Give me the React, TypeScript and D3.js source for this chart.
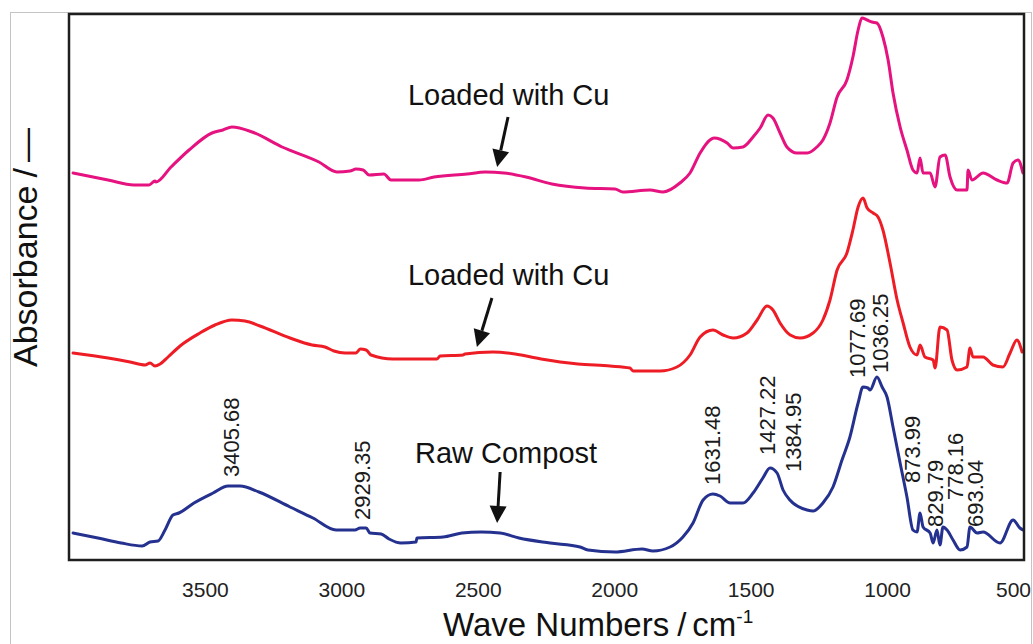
import React, { useEffect, useRef } from 'react';
import * as d3 from 'd3';

// x axis tick values (cm-1)
const X_TICKS = [3500, 3000, 2500, 2000, 1500, 1000, 500];

// spectra: [wave number, absorbance (stacked, a.u.)]
const cuLoadedTop = [
  [3985, 3.87], [3857, 3.80], [3762, 3.75], [3707, 3.75], [3685, 3.79], [3681, 3.78],
  [3626, 3.93], [3560, 4.10], [3476, 4.27], [3436, 4.30], [3403, 4.33], [3329, 4.28],
  [3219, 4.13], [3084, 3.98], [3018, 3.88], [2970, 3.89], [2948, 3.91], [2922, 3.90],
  [2900, 3.85], [2846, 3.86], [2820, 3.80], [2717, 3.80], [2662, 3.83], [2541, 3.86],
  [2475, 3.88], [2406, 3.87], [2325, 3.83], [2230, 3.76], [2109, 3.72], [1999, 3.71],
  [1970, 3.68], [1871, 3.70], [1823, 3.68], [1761, 3.77], [1724, 3.87], [1687, 4.07],
  [1651, 4.20], [1636, 4.22], [1588, 4.17], [1566, 4.12], [1530, 4.13], [1493, 4.23],
  [1467, 4.32], [1438, 4.45], [1420, 4.42], [1394, 4.27], [1369, 4.13], [1332, 4.07],
  [1295, 4.07], [1259, 4.13], [1237, 4.20], [1211, 4.37], [1185, 4.63], [1149, 4.80],
  [1127, 5.03], [1108, 5.30], [1094, 5.42], [1075, 5.40], [1057, 5.38], [1039, 5.37],
  [1017, 5.23], [998, 5.00], [980, 4.67], [954, 4.33], [929, 4.10], [907, 3.90],
  [892, 3.87], [881, 4.02], [870, 3.87], [844, 3.87], [826, 3.73], [808, 4.03],
  [789, 4.05], [771, 3.83], [745, 3.70], [709, 3.70], [705, 3.90], [691, 3.80],
  [650, 3.87], [599, 3.80], [562, 3.77], [540, 3.97], [522, 4.00], [504, 3.87],
];

const cuLoadedMid = [
  [3985, 2.07], [3857, 2.02], [3776, 1.98], [3721, 1.95], [3703, 1.97], [3685, 1.94],
  [3666, 1.96], [3637, 2.03], [3593, 2.14], [3520, 2.27], [3465, 2.35], [3403, 2.40],
  [3355, 2.39], [3300, 2.34], [3190, 2.22], [3109, 2.15], [3062, 2.13], [3029, 2.09],
  [2988, 2.07], [2948, 2.07], [2933, 2.11], [2911, 2.10], [2893, 2.05], [2813, 2.01],
  [2651, 2.01], [2640, 2.04], [2556, 2.05], [2549, 2.06], [2446, 2.08], [2365, 2.06],
  [2270, 2.01], [2135, 1.96], [2017, 1.94], [1944, 1.92], [1933, 1.89], [1834, 1.89],
  [1772, 1.93], [1724, 2.05], [1687, 2.23], [1640, 2.30], [1603, 2.25], [1566, 2.22],
  [1515, 2.27], [1478, 2.40], [1442, 2.54], [1420, 2.50], [1394, 2.37], [1357, 2.25],
  [1321, 2.22], [1273, 2.27], [1237, 2.40], [1211, 2.60], [1185, 2.90], [1149, 3.07],
  [1127, 3.30], [1108, 3.53], [1090, 3.62], [1075, 3.52], [1053, 3.47], [1035, 3.43],
  [1017, 3.30], [991, 2.97], [965, 2.60], [943, 2.37], [918, 2.13], [892, 2.05],
  [881, 2.15], [863, 2.03], [833, 2.00], [826, 1.92], [808, 2.33], [782, 2.30],
  [764, 2.00], [745, 1.90], [709, 1.93], [698, 2.12], [687, 2.03], [650, 2.03],
  [614, 1.95], [577, 1.93], [551, 2.07], [526, 2.20], [507, 2.08],
];

const rawCompost = [
  [3985, 0.27], [3894, 0.22], [3809, 0.17], [3732, 0.14], [3703, 0.18], [3674, 0.19],
  [3648, 0.30], [3619, 0.45], [3597, 0.47], [3542, 0.57], [3472, 0.67], [3417, 0.74],
  [3373, 0.74], [3304, 0.68], [3190, 0.53], [3106, 0.42], [3021, 0.30], [2952, 0.30],
  [2933, 0.32], [2911, 0.32], [2897, 0.27], [2856, 0.26], [2827, 0.21], [2783, 0.17],
  [2728, 0.18], [2725, 0.22], [2629, 0.23], [2560, 0.27], [2490, 0.28], [2420, 0.27],
  [2351, 0.22], [2237, 0.17], [2127, 0.13], [2098, 0.10], [1999, 0.08], [1900, 0.11],
  [1860, 0.09], [1797, 0.13], [1750, 0.23], [1713, 0.37], [1676, 0.60], [1640, 0.66],
  [1614, 0.64], [1577, 0.57], [1530, 0.57], [1493, 0.67], [1457, 0.82], [1431, 0.92],
  [1405, 0.87], [1383, 0.70], [1358, 0.60], [1295, 0.50], [1273, 0.49], [1237, 0.57],
  [1200, 0.73], [1167, 1.00], [1138, 1.23], [1108, 1.57], [1090, 1.73], [1072, 1.72],
  [1064, 1.70], [1039, 1.83], [1020, 1.73], [1002, 1.63], [980, 1.33], [954, 0.97],
  [929, 0.63], [907, 0.30], [892, 0.28], [881, 0.47], [870, 0.33], [844, 0.27],
  [833, 0.17], [819, 0.30], [808, 0.15], [797, 0.33], [782, 0.30], [760, 0.20],
  [734, 0.10], [709, 0.13], [698, 0.33], [672, 0.27], [650, 0.28], [588, 0.17],
  [540, 0.40], [515, 0.32], [504, 0.30],
];

// band positions marked on the raw compost spectrum
const peakLabels = [
  '3405.68', '2929.35', '1631.48', '1427.22', '1384.95', '1077.69',
  '1036.25', '873.99', '829.79', '778.16', '693.04',
];
// label placement: [dx from band (px), foot of label (px)]
const peakPlacement = [
  [0, 477], [1, 520], [-3, 485], [-4, 455], [10, 472], [-9, 378],
  [2, 373], [-10, 483], [1, 527], [7, 500], [4, 527],
];

const annotationTexts = ['Loaded with Cu', 'Loaded with Cu', 'Raw Compost'];
// [text start wn, text baseline abs, arrow tail wn, tail abs, tip wn, tip abs]
const annotationPlacement = [
  [2758, 4.55, 2391, 4.43, 2431, 3.93],
  [2758, 2.75, 2450, 2.62, 2505, 2.13],
  [2732, 0.97, 2420, 0.88, 2431, 0.37],
];

const FONT = '"Liberation Sans", Arial, Helvetica, sans-serif';

const App = () => {
  const svgRef = useRef(null);

  useEffect(() => {
    const svg = d3.select(svgRef.current);
    svg.selectAll('*').remove();

    const W = 1033;
    const H = 644;
    const frame = { left: 69, top: 14, right: 1024, bottom: 560 };

    svg.attr('width', W).attr('height', H);

    const x = d3.scaleLinear().domain([4000, 500]).range([frame.left, frame.right]);
    const y = d3.scaleLinear().domain([0, 5.46]).range([frame.bottom, frame.top]);

    // thin grey page border
    svg.append('rect')
      .attr('x', 10.5).attr('y', 12.5)
      .attr('width', 1021).attr('height', 700)
      .attr('fill', 'none')
      .attr('stroke', '#c4c4c4')
      .attr('stroke-width', 1);

    svg.append('defs').append('clipPath').attr('id', 'plot-clip')
      .append('rect')
      .attr('x', frame.left).attr('y', frame.top)
      .attr('width', frame.right - frame.left)
      .attr('height', frame.bottom - frame.top);

    const line = d3.line()
      .x(d => x(d[0]))
      .y(d => y(d[1]))
      .curve(d3.curveMonotoneX);

    const series = [
      { data: cuLoadedTop, color: '#e5127f' },
      { data: cuLoadedMid, color: '#ee1c25' },
      { data: rawCompost, color: '#24318f' },
    ];

    const plot = svg.append('g').attr('clip-path', 'url(#plot-clip)');
    series.forEach(s => {
      plot.append('path')
        .datum(s.data)
        .attr('d', line)
        .attr('fill', 'none')
        .attr('stroke', s.color)
        .attr('stroke-width', 3)
        .attr('stroke-linejoin', 'round')
        .attr('stroke-linecap', 'round');
    });

    // frame
    svg.append('rect')
      .attr('x', frame.left).attr('y', frame.top)
      .attr('width', frame.right - frame.left)
      .attr('height', frame.bottom - frame.top)
      .attr('fill', 'none')
      .attr('stroke', '#1e1e1e')
      .attr('stroke-width', 2.5);

    // x tick labels (no tick marks in the original); keep the last one inside the page
    svg.append('g')
      .selectAll('text')
      .data(X_TICKS)
      .enter().append('text')
      .attr('y', 597)
      .attr('text-anchor', 'middle')
      .attr('font-family', FONT)
      .attr('font-size', 21)
      .attr('fill', '#222')
      .text(d => d)
      .each(function (d) {
        const w = this.getComputedTextLength();
        d3.select(this).attr('x', Math.min(x(d), W - 2 - w / 2));
      });

    // axis titles
    const xt = svg.append('text')
      .attr('x', 443)
      .attr('y', 636)
      .attr('font-family', FONT)
      .attr('font-size', 33)
      .attr('fill', '#111');
    xt.append('tspan').text('Wave Numbers');
    xt.append('tspan').attr('dx', 8).attr('font-weight', 300).text('/');
    xt.append('tspan').attr('dx', 6).text('cm');
    xt.append('tspan').attr('font-size', 19).attr('dy', -13).text('-1');

    const yt = svg.append('text')
      .attr('transform', 'translate(37,367) rotate(-90)')
      .attr('font-family', FONT)
      .attr('font-size', 34)
      .attr('fill', '#111');
    yt.append('tspan').text('Absorbance');
    yt.append('tspan').attr('dx', 8).text('/');
    yt.append('tspan').attr('dx', 6).text('\u2014');

    // band labels
    const bandWn = peakLabels.map(Number);
    svg.append('g')
      .selectAll('text')
      .data(peakLabels)
      .enter().append('text')
      .attr('transform', (d, i) =>
        `translate(${x(bandWn[i]) + peakPlacement[i][0] + 8},${peakPlacement[i][1]}) rotate(-90)`)
      .attr('font-family', FONT)
      .attr('font-size', 22)
      .attr('fill', '#1a1a1a')
      .text(d => d);

    // annotations with arrows
    annotationTexts.forEach((t, i) => {
      const [tx, ty, ax0, ay0, ax1, ay1] = annotationPlacement[i];
      svg.append('text')
        .attr('x', x(tx))
        .attr('y', y(ty))
        .attr('font-family', FONT)
        .attr('font-size', 29)
        .attr('fill', '#111')
        .text(t);

      const x0 = x(ax0), y0 = y(ay0), x1 = x(ax1), y1 = y(ay1);
      const len = Math.hypot(x1 - x0, y1 - y0);
      const ux = (x1 - x0) / len, uy = (y1 - y0) / len;
      const headL = 17, headW = 8.5;
      const bx = x1 - ux * headL, by = y1 - uy * headL;
      svg.append('line')
        .attr('x1', x0).attr('y1', y0)
        .attr('x2', bx).attr('y2', by)
        .attr('stroke', '#111')
        .attr('stroke-width', 3);
      svg.append('path')
        .attr('d', `M${x1},${y1}L${bx - uy * headW},${by + ux * headW}L${bx + uy * headW},${by - ux * headW}Z`)
        .attr('fill', '#111');
    });
  }, []);

  return (
    <div style={{ position: 'fixed', left: 0, top: 0, width: 1033, height: 644, background: '#fff' }}>
      <svg ref={svgRef} style={{ display: 'block' }}></svg>
    </div>
  );
};

export default App;
